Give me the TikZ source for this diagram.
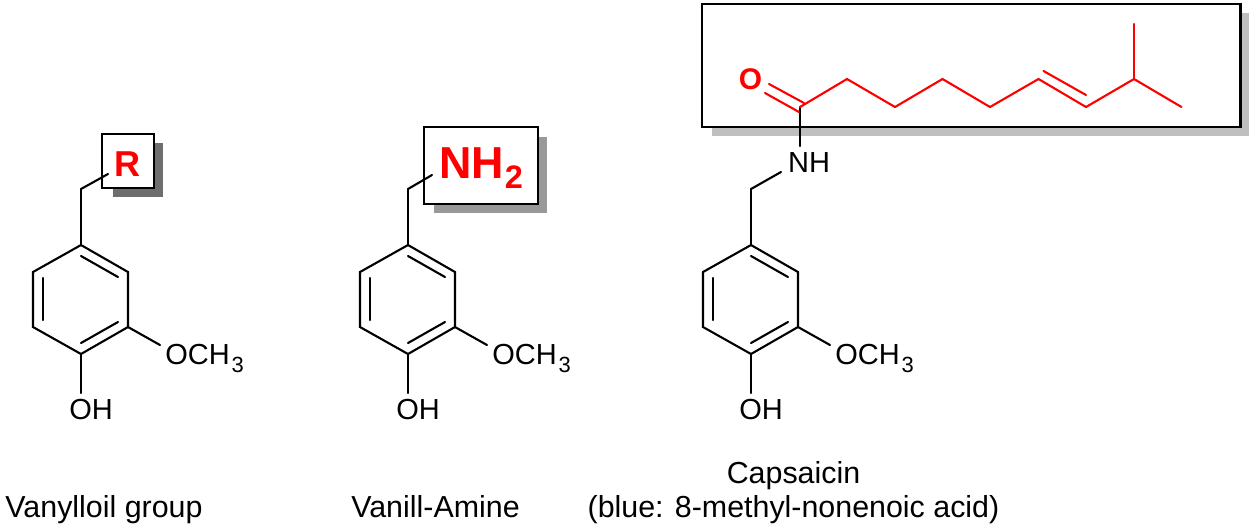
\documentclass[tikz,border=0pt]{standalone}
\usepackage{fontspec}
\setmainfont{Liberation Sans}
\definecolor{chemRed}{RGB}{255,0,0}
\tikzset{
    bond/.style={line width=1.2pt, line cap=round, line join=miter},
    redbond/.style={bond, chemRed},
    frame/.style={draw=black, fill=white, line width=1.25pt},
    atom/.style={inner sep=0pt, anchor=base, font=\fontsize{16.5}{19}\selectfont},
    caption/.style={inner sep=0pt, anchor=base, font=\fontsize{17.3}{20}\selectfont}
}
% Vanillyl part: benzene ring, CH2, OCH3 and OH, shifted along x
\newcommand{\vanillyl}[2]{%
    \begin{scope}[shift={(#2,0)}, name prefix=#1-]
        \coordinate (c1) at (81,245);
        \coordinate (c2) at (128,272);
        \coordinate (c3) at (128,327);
        \coordinate (c4) at (81,354);
        \coordinate (c5) at (33,327);
        \coordinate (c6) at (33,272);
        \coordinate (ch2) at (81,189);
        \coordinate (oend) at (160,345);
        \coordinate (hend) at (81,393);
        \draw[bond] (c1) -- (c2) -- (c3) -- (c4) -- (c5) -- (c6) -- cycle;
        \draw[bond] (81,256) -- (118,277);
        \draw[bond] (81,343) -- (118,322);
        \draw[bond] (43,278) -- (43,320);
        \draw[bond] (c1) -- (ch2);
        \draw[bond] (c3) -- (oend);
        \draw[bond] (c4) -- (hend);
        \node[atom, anchor=base west] (och) at (165,364.5) {OCH\kern1pt\raisebox{-4.3pt}{\fontsize{12.5}{13}\selectfont 3}};
        \node[atom] (oh) at (91,419) {OH};
    \end{scope}
}
\begin{document}
\begin{tikzpicture}[x=0.02cm, y=-0.02cm]
    \useasboundingbox (0,0) rectangle (1250,529);

    % Shadows and boxes
    \fill[black!57] (113,143) rectangle (163,197);
    \draw[frame] (102,134) rectangle (154,188);
    \fill[black!40] (434,137) rectangle (547,213);
    \draw[frame] (424,127) rectangle (538,204);
    \fill[black!25] (712,13) rectangle (1249,136);
    \draw[frame] (702,4) rectangle (1240.5,127);

    % Three vanillyl parts
    \vanillyl{vg}{0}
    \vanillyl{va}{327}
    \vanillyl{cp}{670}

    % Vanylloil group
    \coordinate (rend) at (108,174);
    \draw[bond] (vg-ch2) -- (rend);
    \node[inner sep=0pt, anchor=base, text=chemRed, font=\fontsize{20.5}{24}\selectfont\bfseries] (rlabel) at (128,176) {R};

    % Vanill-Amine
    \coordinate (nend) at (432,175);
    \draw[bond] (va-ch2) -- (nend);
    \node[inner sep=0pt, anchor=base west, text=chemRed, font=\fontsize{25.5}{30}\selectfont\bfseries] (nhlabel) at (439,178) {NH\kern0.5pt\raisebox{-5.7pt}{\fontsize{18.5}{20}\selectfont 2}};

    % Capsaicin amide
    \coordinate (co) at (800,107);
    \coordinate (nbond) at (800,146);
    \coordinate (nch) at (781,172);
    \draw[bond] (co) -- (nbond);
    \draw[bond] (cp-ch2) -- (nch);
    \node[atom] (nh) at (809,172) {NH};

    % Fatty acid chain
    \coordinate (k1) at (847,79);
    \coordinate (k2) at (895,107);
    \coordinate (k3) at (942.5,79);
    \coordinate (k4) at (990,107);
    \coordinate (k5) at (1038.5,79);
    \coordinate (k6) at (1086,107);
    \coordinate (k7) at (1134,79);
    \coordinate (k8) at (1181.5,107);
    \coordinate (k9) at (1134,24);
    \draw[redbond] (co) -- (k1) -- (k2) -- (k3) -- (k4) -- (k5) -- (k6) -- (k7) -- (k8);
    \draw[redbond] (k7) -- (k9);
    \draw[redbond] (1043.5,71) -- (1086,95);
    \draw[redbond] (769,84) -- (804,103);
    \draw[redbond] (765,93) -- (799,112);
    \node[inner sep=0pt, anchor=base, text=chemRed, font=\fontsize{17}{20}\selectfont\bfseries] (oxygen) at (750.5,89.5) {O};

    % Captions
    \node[caption] (vglabel) at (104,517) {Vanylloil group};
    \node[caption] (valabel) at (435.5,517) {Vanill-Amine};
    \node[caption] (cplabel) at (793.5,483) {Capsaicin};
    \node[caption] (cpnote) at (793.5,517) {(blue: 8-methyl-nonenoic acid)};
\end{tikzpicture}
\end{document}
